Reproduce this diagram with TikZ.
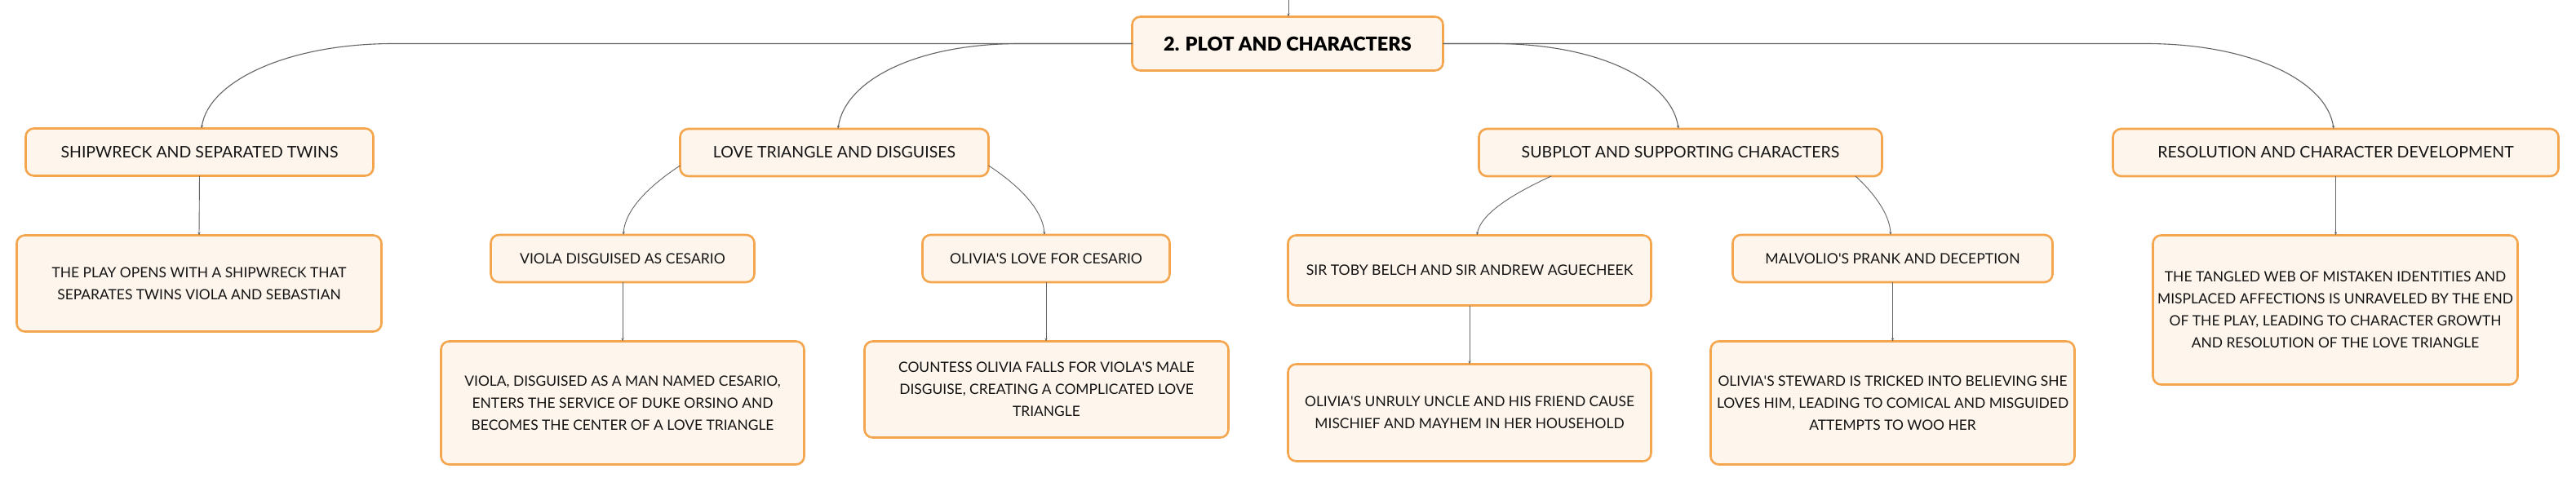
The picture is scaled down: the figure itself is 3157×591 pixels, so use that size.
\documentclass[tikz,border=0pt]{standalone}
\usepackage{fontspec}
\setmainfont{Lato}
\IfFontExistsTF{Lato Black}{\newfontfamily\titlefont{Lato Black}}{\newfontfamily\titlefont{Lato}[UprightFont=*-Bold,UprightFeatures={FakeBold=1.3}]}
\usetikzlibrary{arrows.meta,calc}
\definecolor{boxborder}{RGB}{244,166,78}
\definecolor{boxfill}{RGB}{254,245,236}
\definecolor{conncol}{RGB}{100,100,100}
\definecolor{txt}{RGB}{20,20,20}
\newcommand{\apo}{\textquotesingle}
\begin{document}
\begin{tikzpicture}[x=1pt,y=-1pt,
  box/.style={draw=boxborder,fill=boxfill,line width=2.6pt,rounded corners=10pt,
    inner sep=0pt,outer sep=0pt,align=center,text=txt},
  lvlone/.style={box,font=\fontsize{19.5}{27}\selectfont},
  lvltwo/.style={box,font=\fontsize{17.6}{27}\selectfont},
  leaf/.style={box,font=\fontsize{17.4}{27}\selectfont},
  conn/.style={draw=conncol,line width=1.1pt,-{Stealth[length=4pt,width=3pt]}},
  thinconn/.style={draw=conncol,line width=0.9pt,-{Stealth[length=4pt,width=3pt]}}]
\useasboundingbox (0,0) rectangle (3157,591);
\fill[white] (0,0) rectangle (3157,591);
% nodes
\node[box,minimum width=381pt,minimum height=66pt,text=black,font=\titlefont\fontsize{23.5}{28}\selectfont] (main) at (1578,53.5) {2. PLOT AND CHARACTERS};
\node[lvlone,minimum width=426pt,minimum height=58pt] (ship) at (244.5,186.5) {SHIPWRECK AND SEPARATED TWINS};
\node[leaf,minimum width=447pt,minimum height=118pt] (shipc) at (244,347.5) {THE PLAY OPENS WITH A SHIPWRECK THAT\\SEPARATES TWINS VIOLA AND SEBASTIAN};
\node[lvlone,minimum width=378pt,minimum height=58pt] (love) at (1022.5,187) {LOVE TRIANGLE AND DISGUISES};
\node[lvltwo,minimum width=323pt,minimum height=58pt] (viola) at (763,317) {VIOLA DISGUISED AS CESARIO};
\node[lvltwo,minimum width=303pt,minimum height=58pt] (olivia) at (1282,317) {OLIVIA\apo S LOVE FOR CESARIO};
\node[leaf,minimum width=445pt,minimum height=151pt] (violac) at (763,494) {VIOLA, DISGUISED AS A MAN NAMED CESARIO,\\ENTERS THE SERVICE OF DUKE ORSINO AND\\BECOMES THE CENTER OF A LOVE TRIANGLE};
\node[leaf,minimum width=446pt,minimum height=118pt] (oliviac) at (1282.5,477.5) {COUNTESS OLIVIA FALLS FOR VIOLA\apo S MALE\\DISGUISE, CREATING A COMPLICATED LOVE\\TRIANGLE};
\node[lvlone,minimum width=494pt,minimum height=58pt] (sub) at (2059.5,187) {SUBPLOT AND SUPPORTING CHARACTERS};
\node[lvltwo,minimum width=445pt,minimum height=86pt] (toby) at (1801,331.5) {SIR TOBY BELCH AND SIR ANDREW AGUECHEEK};
\node[lvltwo,minimum width=392pt,minimum height=58pt] (malv) at (2319.5,317) {MALVOLIO\apo S PRANK AND DECEPTION};
\node[leaf,minimum width=445pt,minimum height=119pt] (tobyc) at (1801,506) {OLIVIA\apo S UNRULY UNCLE AND HIS FRIEND CAUSE\\MISCHIEF AND MAYHEM IN HER HOUSEHOLD};
\node[leaf,minimum width=446pt,minimum height=151pt] (malvc) at (2319.5,494) {OLIVIA\apo S STEWARD IS TRICKED INTO BELIEVING SHE\\LOVES HIM, LEADING TO COMICAL AND MISGUIDED\\ATTEMPTS TO WOO HER};
\node[lvlone,minimum width=546pt,minimum height=58pt] (res) at (2862.5,187) {RESOLUTION AND CHARACTER DEVELOPMENT};
\node[leaf,minimum width=447pt,minimum height=183pt] (resc) at (2862,380) {THE TANGLED WEB OF MISTAKEN IDENTITIES AND\\MISPLACED AFFECTIONS IS UNRAVELED BY THE END\\OF THE PLAY, LEADING TO CHARACTER GROWTH\\AND RESOLUTION OF THE LOVE TRIANGLE};
% bend points
\coordinate (top) at (1579,-5);
\coordinate (hL1) at (482,53.5);
\coordinate (hL2) at (1250,53.5);
\coordinate (hR1) at (1831,53.5);
\coordinate (hR2) at (2630,53.5);
% incoming
\draw[thinconn] (top) -- (top |- main.north);
% level 1
\draw[conn] (main.west) -- (hL1) .. controls (352,53.5) and (255,100) .. ([xshift=2.5pt]ship.north);
\draw[conn] (main.west) -- (hL2) .. controls (1120,53.5) and (1035,100) .. ([xshift=4.5pt]love.north);
\draw[conn] (main.east) -- (hR1) .. controls (1961,53.5) and (2049,100) .. ([xshift=-2.5pt]sub.north);
\draw[conn] (main.east) -- (hR2) .. controls (2760,53.5) and (2852,100) .. ([xshift=-2.5pt]res.north);
% level 2
\draw[thinconn] (ship.south) -- (shipc.north);
\draw[thinconn] ([yshift=-16pt]love.west) .. controls (800,225) and (766,255) .. ([xshift=1pt]viola.north);
\draw[thinconn] ([yshift=-16pt]love.east) .. controls (1245,225) and (1278,255) .. ([xshift=-2pt]olivia.north);
\draw[thinconn] ([xshift=-158.5pt]sub.south) .. controls (1860,235) and (1815,260) .. ([xshift=9pt]toby.north);
\draw[thinconn] ([xshift=214.5pt]sub.south) .. controls (2295,235) and (2316,262) .. ([xshift=-2.5pt]malv.north);
\draw[thinconn] (res.south) -- (res.south |- resc.north);
% level 3
\draw[thinconn] (viola.south) -- (violac.north);
\draw[thinconn] (olivia.south) -- (olivia.south |- oliviac.north);
\draw[thinconn] (toby.south) -- (tobyc.north);
\draw[thinconn] (malv.south) -- (malv.south |- malvc.north);
\end{tikzpicture}
\end{document}
